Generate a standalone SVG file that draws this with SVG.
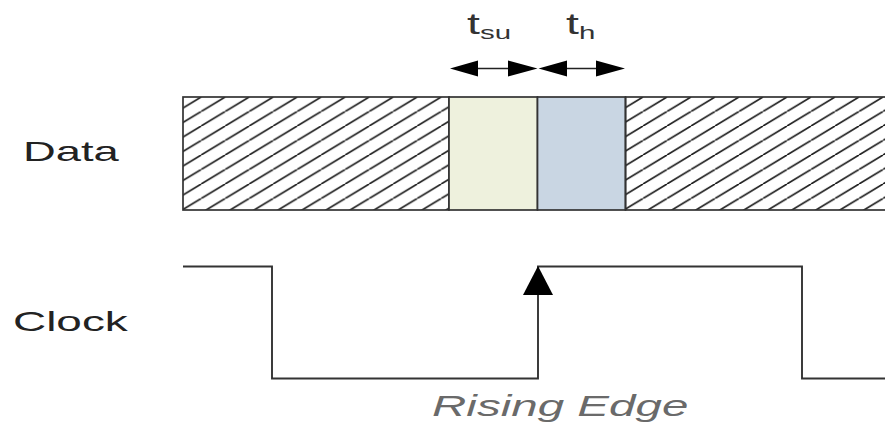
<svg xmlns="http://www.w3.org/2000/svg" width="885" height="422" viewBox="0 0 885 422">
  <style>
    .label { font-family: "Liberation Sans", Arial, sans-serif; font-size: 28px; fill: #222; }
    .param { font-size: 30px; fill: #333; }
    .sub { font-size: 19px; }
    .caption { font-family: "Liberation Sans", Arial, sans-serif; font-size: 29px; font-style: italic; fill: #6a6a6a; }
    .box { stroke: #333; stroke-width: 1.7; }
    .wave { fill: none; stroke: #333; stroke-width: 1.9; stroke-linejoin: miter; }
    .span { stroke: #222; stroke-width: 1.5; }
    .head { fill: #000; }
  </style>
  <defs>
    <!-- diagonal hatching for "don't care" data -->
    <pattern id="hatchA" patternUnits="userSpaceOnUse" x="177.2" y="97" width="24" height="14.5">
      <path d="M0,14.5 L24,0 M-24,14.5 L0,0 M24,14.5 L48,0" stroke="#1e1e1e" stroke-width="1.7" fill="none"/>
    </pattern>
    <pattern id="hatchB" patternUnits="userSpaceOnUse" x="619" y="97" width="24" height="14.5">
      <path d="M0,14.5 L24,0 M-24,14.5 L0,0 M24,14.5 L48,0" stroke="#1e1e1e" stroke-width="1.7" fill="none"/>
    </pattern>
  </defs>

  <rect width="885" height="422" fill="#fff"/>

  <!-- signal names -->
  <g id="label-data">
    <text class="label" transform="translate(23,161) scale(1.62,1)" font-size="29">Data</text>
  </g>
  <g id="label-clock">
    <text class="label" transform="translate(13,331) scale(1.64,1)" font-size="29">Clock</text>
  </g>

  <!-- data line segments -->
  <g id="data-invalid-before">
    <rect class="box" x="183" y="97" width="266" height="113" fill="url(#hatchA)"/>
  </g>
  <g id="data-setup">
    <rect class="box" x="449" y="97" width="88.5" height="113" fill="#eef1dd"/>
  </g>
  <g id="data-hold">
    <rect class="box" x="537.5" y="97" width="88" height="113" fill="#c9d6e3"/>
  </g>
  <g id="data-invalid-after">
    <rect class="box" x="625.5" y="97" width="270" height="113" fill="url(#hatchB)"/>
  </g>

  <!-- timing parameter labels -->
  <g id="label-tsu">
    <text class="label param" transform="translate(467,34) scale(1.55,1)">t<tspan class="sub" dy="5">su</tspan></text>
  </g>
  <g id="label-th">
    <text class="label param" transform="translate(566,34) scale(1.55,1)">t<tspan class="sub" dy="5">h</tspan></text>
  </g>

  <!-- clock waveform -->
  <g id="clock">
    <polyline class="wave" points="183,266.5 272,266.5 272,378.5 538,378.5 538,266.5 802,266.5 802,378.5 886,378.5"/>
  </g>

  <g id="caption">
    <text class="caption" transform="translate(432,416) scale(1.64,1)">Rising Edge</text>
  </g>

  <!-- connectors: timing spans and rising-edge marker -->
  <g id="connectors">
    <line class="span" x1="470" y1="68.5" x2="518" y2="68.5"/>
    <polygon class="head" points="450,68.5 478,60.5 478,76.5"/>
    <polygon class="head" points="537.5,68.5 508,60.5 508,76.5"/>
    <line class="span" x1="558" y1="68.5" x2="605" y2="68.5"/>
    <polygon class="head" points="538.5,68.5 567,60.5 567,76.5"/>
    <polygon class="head" points="625,68.5 596,60.5 596,76.5"/>
    <polygon class="head" points="538,266 553,295 523,295"/>
  </g>
</svg>
